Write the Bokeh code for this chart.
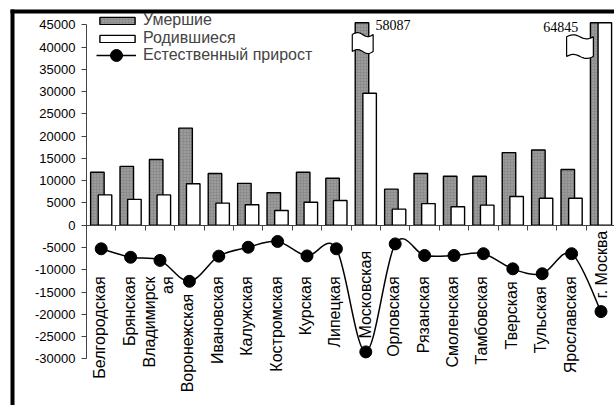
import numpy as np
from bokeh.plotting import figure
from bokeh.models import (Range1d, FixedTicker, NumeralTickFormatter, LinearAxis, Legend,
                          LegendItem, BoxAnnotation)
from bokeh.core.properties import value
from bokeh.embed import file_html
from bokeh.resources import INLINE

# ---------------- data ----------------
regions = ["Белгородская", "Брянская", "Владимирская", "Воронежская", "Ивановская",
           "Калужская", "Костромская", "Курская", "Липецкая", "Московская",
           "Орловская", "Рязанская", "Смоленская", "Тамбовская", "Тверская",
           "Тульская", "Ярославская", "г. Москва"]
region_labels = ["Белгородская", "Брянская", "Владимирск\nая", "Воронежская", "Ивановская",
                 "Калужская", "Костромская", "Курская", "Липецкая", "Московская",
                 "Орловская", "Рязанская", "Смоленская", "Тамбовская", "Тверская",
                 "Тульская", "Ярославская", "г. Москва"]
deaths = [11900, 13200, 14750, 21800, 11600, 9400, 7300, 11900, 10550, 58087,
          8100, 11600, 11000, 11000, 16300, 16900, 12500, 64845]
births = [6800, 5800, 6800, 9300, 4950, 4600, 3300, 5150, 5550, 29640,
          3600, 4850, 4150, 4500, 6450, 6050, 6050, 45445]
natural = [-5300, -7200, -7900, -12600, -6950, -4950, -3650, -6900, -5300, -28450,
           -4200, -6800, -6800, -6400, -9800, -10900, -6400, -19400]
broken = ["Московская", "г. Москва"]
y_ticks = list(range(-30000, 45001, 5000))
Y_MIN, Y_MAX = -30000, 45000

# ---------------- layout constants (pixels) ----------------
W, H = 614, 405
AXIS_X_PX = 86          # pixel of the value axis
CAT_PX = 29.4           # width of one category
TOP_PX, BOT_PX = 24.3, 358.3   # pixels of Y_MAX and Y_MIN
upp = (Y_MAX - Y_MIN) / (BOT_PX - TOP_PX)   # value units per pixel
x_start = -AXIS_X_PX / CAT_PX
x_end = (W - AXIS_X_PX) / CAT_PX
y_end = Y_MAX + TOP_PX * upp
y_start = Y_MAX - (H - TOP_PX) * upp
CLIP = Y_MAX + 2 * upp   # top of the original plot area

FONT = "Liberation Sans"
n = len(regions)
xc = np.arange(n) + 0.5

p = figure(width=W, height=H, output_backend="svg", toolbar_location=None,
           x_range=Range1d(x_start, x_end), y_range=Range1d(y_start, y_end),
           min_border=0, x_axis_type=None, y_axis_type=None)
p.outline_line_color = None
p.grid.visible = False
p.background_fill_color = "white"
p.border_fill_color = "white"

# value axis (inside the full-canvas frame)
ya = LinearAxis(fixed_location=0, bounds=(Y_MIN, Y_MAX),
                ticker=FixedTicker(ticks=y_ticks, minor_ticks=[]),
                formatter=NumeralTickFormatter(format="0"),
                major_label_text_font=FONT, major_label_text_font_size="13px",
                major_label_text_color="black", axis_line_color="#444444",
                major_tick_line_color="#444444", major_tick_out=5, major_tick_in=0,
                minor_tick_out=0, minor_tick_in=0, major_label_standoff=6)
p.add_layout(ya, "left")

# category axis at zero
xa = LinearAxis(fixed_location=0, bounds=(0, n),
                ticker=FixedTicker(ticks=list(range(n + 1)), minor_ticks=[]),
                major_label_text_font_size="0px", major_label_text_color=None,
                axis_line_color="#444444", major_tick_line_color="#444444",
                major_tick_out=5, major_tick_in=0, minor_tick_out=0, minor_tick_in=0)
p.add_layout(xa, "below")

# chart border (top and left)
p.add_layout(BoxAnnotation(left=10, right=14, top=H - 9, bottom=None,
                           left_units="screen", right_units="screen", top_units="screen",
                           fill_color="black", fill_alpha=1, line_color=None))
p.add_layout(BoxAnnotation(left=10, right=None, top=H - 9, bottom=H - 13,
                           left_units="screen", top_units="screen", bottom_units="screen",
                           fill_color="black", fill_alpha=1, line_color=None))

# bars
BW, OFF = 0.46, 0.13
r_d = p.vbar(x=xc - OFF, top=np.minimum(deaths, CLIP), bottom=0, width=BW, fill_color="#8c8c8c",
             hatch_pattern="dot", hatch_color="#b4b4b4", hatch_scale=3, hatch_weight=1,
             line_color="black", line_width=1.4)
r_b = p.vbar(x=xc + OFF, top=np.minimum(births, CLIP), bottom=0, width=BW, fill_color="white",
             line_color="black", line_width=1.4)

# smooth line (Catmull-Rom -> cubic Bezier)
P = np.column_stack([xc, np.array(natural, dtype=float)])
Pe = np.vstack([P[0], P, P[-1]])
c0 = Pe[1:-2] + (Pe[2:-1] - Pe[0:-3]) / 6.0
c1 = Pe[2:-1] - (Pe[3:] - Pe[1:-2]) / 6.0
r_curve = p.bezier(x0=P[:-1, 0], y0=P[:-1, 1], x1=P[1:, 0], y1=P[1:, 1],
                   cx0=c0[:, 0], cy0=c0[:, 1], cx1=c1[:, 0], cy1=c1[:, 1],
                   line_color="black", line_width=1.5)
r_pts = p.scatter(x=xc, y=natural, size=12, marker="circle", fill_color="black",
                  line_color="black")

# category labels, placed below the curve (or above it when the point is very low)
GAP = 12.5 * upp
LABEL_TOP = -11500
LOW = -15000
bx, by, bt, ax_, ay, at = [], [], [], [], [], []
for i, v in enumerate(natural):
    if v < LOW:
        ax_.append(xc[i]); ay.append(v + 3000); at.append(region_labels[i])
    else:
        bx.append(xc[i] - 0.05); by.append(min(LABEL_TOP, v - GAP)); bt.append(region_labels[i])
p.text(x=bx, y=by, text=bt, angle=np.pi / 2, text_align="right", text_baseline="middle",
       text_font=value(FONT), text_font_size="16px", text_color="black", text_line_height=1.1)
p.text(x=ax_, y=ay, text=at, angle=np.pi / 2, text_align="left", text_baseline="middle",
       text_font=value(FONT), text_font_size="16px", text_color="black")

# axis-break marks on the two truncated bars
def wavy(xl, xr, yb, yt, amp):
    t = np.linspace(0, 1, 24)
    xs = xl + (xr - xl) * t
    top = yt + amp * np.sin(2 * np.pi * t)
    bot = yb + amp * np.sin(2 * np.pi * t)
    return list(xs) + list(xs[::-1]), list(top) + list(bot[::-1])

brk = [(-0.46, 0.25, 39000, 42800, "left", 0.33, 44850),
       (-1.17, -0.26, 37900, 42300, "right", -0.77, 44600)]
for name, (l, r, yb, yt, al, tx, ty) in zip(broken, brk):
    i = regions.index(name)
    xs, ys = wavy(xc[i] + l, xc[i] + r, yb, yt, 450)
    p.patch(xs, ys, fill_color="white", line_color="black", line_width=1.2)
    p.text(x=[xc[i] + tx], y=[ty], text=[str(deaths[i])], text_align=al, text_baseline="middle",
           text_font=value("Liberation Serif"), text_font_size="14px", text_color="black")

common = dict(padding=0, margin=0, spacing=0, label_text_font=FONT, label_text_font_size="16px",
              background_fill_alpha=0, border_line_color=None)
leg1 = Legend(items=[LegendItem(label="Умершие", renderers=[r_d]),
                     LegendItem(label="Родившиеся", renderers=[r_b])],
              location=(95, H - 47), glyph_width=44, glyph_height=9, label_standoff=4,
              label_height=15, **common)
leg2 = Legend(items=[LegendItem(label="Естественный прирост", renderers=[r_curve, r_pts])],
              location=(96, H - 70), glyph_width=40, glyph_height=30, label_standoff=7,
              label_height=15, **common)
p.add_layout(leg1, "center")
p.add_layout(leg2, "center")

open("out.html", "w").write(file_html(p, INLINE))
